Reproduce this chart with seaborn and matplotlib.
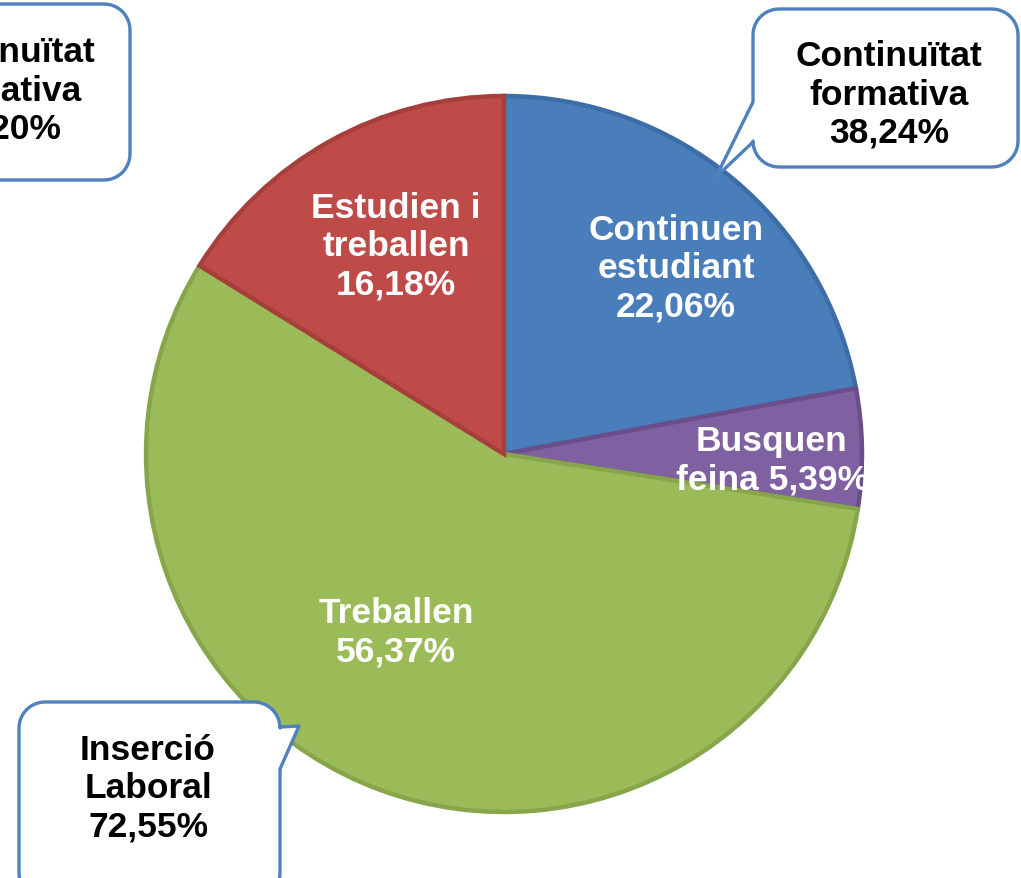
import numpy as np
import matplotlib
matplotlib.use("Agg")
import matplotlib.pyplot as plt
from matplotlib.patches import Polygon
import seaborn as sns

# ---- data ----
categories = ["Continuen estudiant", "Busquen feina", "Treballen", "Estudien i treballen"]
values = [22.06, 5.39, 56.37, 16.18]
slice_labels = ["Continuen\nestudiant\n22,06%", "Busquen\nfeina 5,39%", "Treballen\n56,37%", "Estudien i\ntreballen\n16,18%"]
callout_texts = ["Continuïtat\nformativa\n38,24%", "Inserció\nLaboral\n72,55%", "Continuïtat\nformativa\n27,20%"]

fill_colors = ["#4a7ebb", "#7f60a0", "#9bbb59", "#be4b48"]
edge_colors = ["#3d6da6", "#6a4e8a", "#87a64b", "#a63f3c"]

sns.set_theme(style="white")
plt.rcParams['font.family'] = ['Liberation Sans', 'DejaVu Sans']

W, H = 1021, 879
fig = plt.figure(figsize=(W / 100, H / 100), dpi=100)
ax = fig.add_axes([0, 0, 1, 1])


def Y(y):
    return H - y


cx, cy, R = 504, 455, 358
wedges, _ = ax.pie(values, colors=fill_colors, startangle=90, counterclock=False,
                   center=(cx, Y(cy)), radius=R, frame=True,
                   wedgeprops=dict(linewidth=3.2, joinstyle="miter"))
for w, ec in zip(wedges, edge_colors):
    w.set_edgecolor(ec)
ax.set_xlim(0, W)
ax.set_ylim(0, H)
ax.set_aspect("equal")
ax.axis("off")

# slice labels (pixel positions)
label_pos = [(676, 269), (772, 461), (396, 633), (396, 247)]
for txt, (x, y), w in zip(slice_labels, label_pos, wedges):
    t = ax.text(x, Y(y), txt, color="white", fontsize=25.5, fontweight="bold",
                ha="center", va="center", linespacing=1.2, zorder=4)
    t.set_clip_path(w)


def arc(cxp, cyp, r, a0, a1, n=12):
    t = np.radians(np.linspace(a0, a1, n))
    return [(cxp + r * np.cos(a), cyp + r * np.sin(a)) for a in t]


def callout_points(x0, y0, x1, y1, r, side=None, a=None, b=None, tip=None):
    pts = [(x0 + r, y0), (x1 - r, y0)]
    pts += arc(x1 - r, y0 + r, r, -90, 0)
    if side == "right":
        pts += [(x1, a), tip, (x1, b)]
    pts += arc(x1 - r, y1 - r, r, 0, 90)
    pts += arc(x0 + r, y1 - r, r, 90, 180)
    if side == "left":
        pts += [(x0, b), tip, (x0, a)]
    pts += arc(x0 + r, y0 + r, r, 180, 270)
    return [(px, Y(py)) for px, py in pts]


box_edge = "#4f81bd"
boxes = [
    dict(rect=(753, 10, 1018, 168), side="left", a=103, b=143, tip=(716, 178), text_xy=(889, 95)),
    dict(rect=(19, 703, 280, 900), side="right", a=728, b=770, tip=(299, 727), text_xy=(148, 789)),
    dict(rect=(-130, 5, 130, 181), side=None, a=None, b=None, tip=None, text_xy=(2, 91)),
]
for bx, txt in zip(boxes, callout_texts):
    x0, y0, x1, y1 = bx["rect"]
    pts = callout_points(x0, y0, x1, y1, 26, bx["side"], bx["a"], bx["b"], bx["tip"])
    poly = Polygon(pts, closed=True, facecolor="white", edgecolor=box_edge,
                   linewidth=2.4, joinstyle="round", zorder=5, clip_on=False)
    ax.add_patch(poly)
    tx, ty = bx["text_xy"]
    ax.text(tx, Y(ty), txt, color="black", fontsize=25.5, fontweight="bold",
            ha="center", va="center", linespacing=1.2, zorder=6)

fig.savefig("out.png", dpi=100, facecolor="white")
